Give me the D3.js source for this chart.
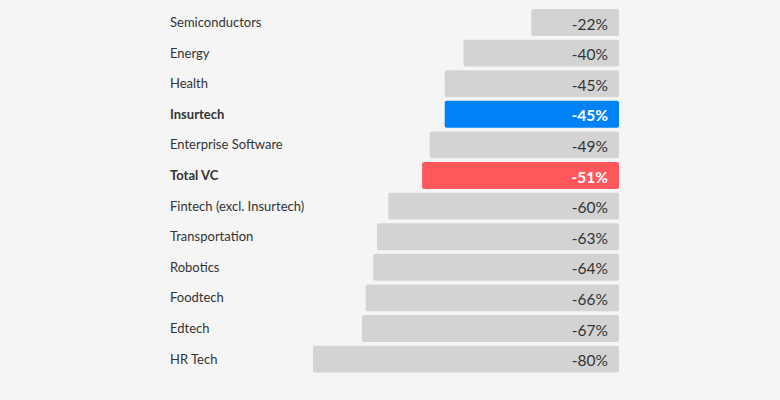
<!DOCTYPE html>
<html lang="en">
<head>
<meta charset="UTF-8">
<title>VC funding change by sector</title>
<script src="https://cdn.jsdelivr.net/npm/d3@7"></script>
<style>
    body { margin: 0; background: #f5f5f5; }
    svg { display: block; font-family: Lato, "Source Sans Pro", sans-serif; }
    .label { font-size: 13px; fill: #333; }
    .value { font-size: 15.5px; fill: #333; }
</style>
</head>
<body>
<svg id="chart" width="780" height="400"></svg>
<script>
    const categories = ["Semiconductors", "Energy", "Health", "Insurtech", "Enterprise Software", "Total VC",
        "Fintech (excl. Insurtech)", "Transportation", "Robotics", "Foodtech", "Edtech", "HR Tech"];
    const values = [-22, -40, -45, -45, -49, -51, -60, -63, -64, -66, -67, -80];
    const highlights = { "Insurtech": "#0082f7", "Total VC": "#ff575c" };

    const svg = d3.select("#chart");
    const right = 619;

    const y = d3.scaleBand()
        .domain(categories)
        .range([7.2, 374.4])
        .paddingInner(0.12)
        .paddingOuter(0.06);

    // bar length grows with the size of the drop
    const w = d3.scaleLinear().domain([0, 80]).range([5, 306]);

    const rows = svg.selectAll(".row")
        .data(categories)
        .enter()
        .append("g")
        .attr("class", "row")
        .attr("transform", d => `translate(0, ${y(d)})`);

    rows.append("rect")
        .attr("x", (d, i) => right - w(-values[i]))
        .attr("width", (d, i) => w(-values[i]))
        .attr("height", y.bandwidth())
        .attr("rx", 2)
        .attr("fill", d => highlights[d] || "#d3d3d3");

    rows.append("text")
        .attr("class", "label")
        .attr("x", 170)
        .attr("y", 18)
        .attr("font-weight", d => highlights[d] ? "bold" : null)
        .text(d => d);

    rows.append("text")
        .attr("class", "value")
        .attr("x", 608)
        .attr("y", 20.5)
        .attr("text-anchor", "end")
        .attr("font-weight", d => highlights[d] ? "bold" : null)
        .style("fill", d => highlights[d] ? "#fff" : null)
        .text((d, i) => values[i] + "%");
</script>
</body>
</html>
